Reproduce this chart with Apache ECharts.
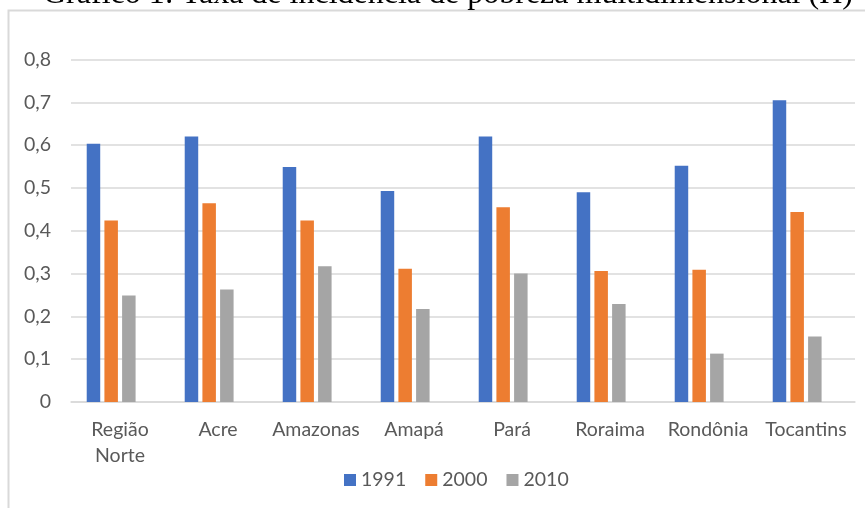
<!DOCTYPE html>
<html>
<head>
<meta charset="utf-8">
<script src="https://cdn.jsdelivr.net/npm/echarts@6/dist/echarts.min.js"></script>
<style>
    html, body { margin: 0; padding: 0; background: #fff; }
    #chart { width: 865px; height: 508px; }
</style>
</head>
<body>
<div id="chart"></div>
<script>
// dados do gráfico
const titulo = 'Gráfico 1: Taxa de incidência de pobreza multidimensional (H)'
const categorias = ['Região\nNorte', 'Acre', 'Amazonas', 'Amapá', 'Pará', 'Roraima', 'Rondônia', 'Tocantins']
const anos = ['1991', '2000', '2010']
const valores1991 = [0.603, 0.620, 0.549, 0.493, 0.620, 0.490, 0.552, 0.705]
const valores2000 = [0.424, 0.464, 0.424, 0.311, 0.455, 0.306, 0.309, 0.444]
const valores2010 = [0.249, 0.263, 0.317, 0.217, 0.300, 0.229, 0.113, 0.153]
const ticksY = [0, 0.1, 0.2, 0.3, 0.4, 0.5, 0.6, 0.7, 0.8]

const COR = {
    azul: '#4472C4',
    laranja: '#ED7D31',
    cinza: '#A5A5A5',
    texto: '#595959',
    linha: '#D9D9D9'
}
const FONTE = 'Lato, "Open Sans", sans-serif'
const TAM = 19.5 // tamanho da fonte dos rótulos

const chart = echarts.init(document.getElementById('chart'))

const serieBarra = (nome, dados, cor) => ({
    name: nome,
    type: 'bar',
    data: dados,
    barWidth: 13.5,
    barGap: '31%',
    color: cor,
    itemStyle: { color: cor },
})

const option = {
    animation: false,
    textStyle: { fontFamily: FONTE },
    graphic: [
        { // moldura (só borda esquerda e superior aparecem)
            type: 'polyline',
            shape: { points: [[8.5, 520], [8.5, 10.5], [870, 10.5]] },
            style: { stroke: COR.linha, lineWidth: 2, fill: null },
            silent: true
        },
        { // título cortado no topo
            type: 'text',
            left: 43,
            top: -21,
            style: {
                text: titulo,
                font: '32px "Liberation Serif", "Times New Roman", serif',
                fill: '#000'
            },
            silent: true
        }
    ],
    legend: {
        data: anos,
        top: 465,
        left: 339,
        itemWidth: 12,
        itemHeight: 12,
        itemGap: 19,
        icon: 'rect',
        textStyle: { color: COR.texto, fontSize: TAM, fontFamily: FONTE, padding: [0, 0, 0, 0] }
    },
    grid: {
        top: 59.5,
        bottom: 106,
        left: 71,
        right: 10,
    },
    xAxis: {
        type: 'category',
        data: categorias,
        axisTick: { show: false },
        axisLine: { lineStyle: { color: COR.linha, width: 1.5 } },
        axisLabel: {
            color: COR.texto,
            fontSize: TAM,
            fontFamily: FONTE,
            margin: 15,
            lineHeight: 26,
            interval: 0
        }
    },
    yAxis: {
        type: 'value',
        min: ticksY[0],
        max: ticksY[ticksY.length - 1],
        interval: 0.1,
        axisLine: { show: false },
        axisTick: { show: false },
        axisLabel: {
            color: COR.texto,
            fontSize: TAM,
            fontFamily: FONTE,
            margin: 20,
            formatter: v => v === 0 ? '0' : v.toFixed(1).replace('.', ',')
        },
        splitLine: { lineStyle: { color: COR.linha, width: 1.5 } }
    },
    series: [
        serieBarra(anos[0], valores1991, COR.azul),
        serieBarra(anos[1], valores2000, COR.laranja),
        serieBarra(anos[2], valores2010, COR.cinza),
        // série vazia: o Excel reservava espaço de uma quarta série
        serieBarra('', categorias.map(() => null), 'transparent'),
    ]
}

chart.setOption(option)
</script>
</body>
</html>
